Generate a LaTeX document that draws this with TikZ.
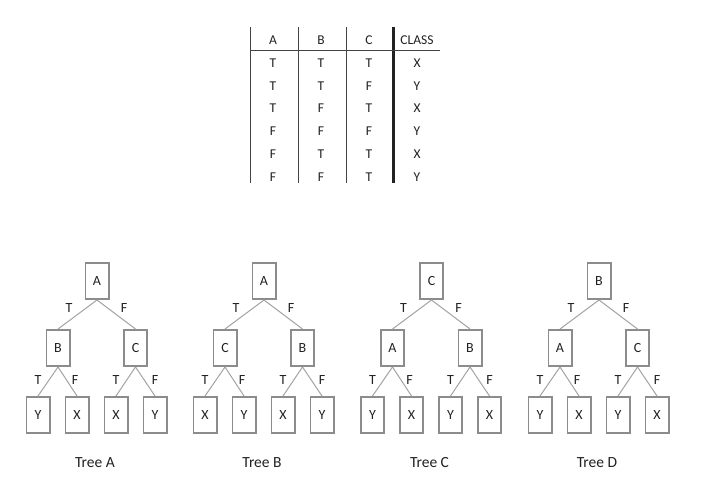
\documentclass[tikz,border=0pt]{standalone}
\usepackage{fontspec}
\setmainfont{Carlito}
\definecolor{boxgray}{HTML}{8C8C8C}
\definecolor{edgegray}{HTML}{A3A3A3}
\definecolor{inkc}{HTML}{222222}
\newcommand{\drawtree}[9]{%
  \begin{scope}[xshift=#1pt]
    \node[box] (#2-root) at (0,281) {#3};
    \node[box] (#2-left) at (-39,348) {#4};
    \node[box] (#2-right) at (38.5,348) {#5};
    \node[box] (#2-leaf1) at (-59,415) {#6};
    \node[box] (#2-leaf2) at (-20,415) {#7};
    \node[box] (#2-leaf3) at (19,415) {#8};
    \node[box] (#2-leaf4) at (58,415) {#9};
    \draw[edge] (#2-root.south) -- (#2-left.north);
    \draw[edge] (#2-root.south) -- (#2-right.north);
    \draw[edge] (#2-left.south) -- (#2-leaf1.north);
    \draw[edge] (#2-left.south) -- (#2-leaf2.north);
    \draw[edge] (#2-right.south) -- (#2-leaf3.north);
    \draw[edge] (#2-right.south) -- (#2-leaf4.north);
    \node[lbl] (#2-t0) at (-28,308) {T};
    \node[lbl] (#2-f0) at (27,308) {F};
    \node[lbl] (#2-t1) at (-59,380) {T};
    \node[lbl] (#2-f1) at (-22,380) {F};
    \node[lbl] (#2-t2) at (19,380) {T};
    \node[lbl] (#2-f2) at (58,380) {F};
    \node[treelbl] (#2-name) at (-2,463) {Tree #2};
  \end{scope}}
\begin{document}
\begin{tikzpicture}[x=1pt,y=-1pt,
  box/.style={draw=boxgray, line width=1.8pt, minimum width=23.2pt, minimum height=36.2pt,
    inner sep=0pt, font=\fontsize{14}{16}\selectfont, text=inkc},
  edge/.style={draw=edgegray, line width=1pt},
  lbl/.style={inner sep=0pt, font=\fontsize{14}{16}\selectfont, text=inkc},
  treelbl/.style={inner sep=0pt, font=\fontsize{15.5}{18}\selectfont, text=inkc},
  cell/.style={inner sep=0pt, font=\fontsize{13.5}{15}\selectfont, text=inkc},
  rule/.style={draw=inkc!85, line width=0.9pt}]
\useasboundingbox[fill=white] (0,0) rectangle (709,489);
% table
\draw[rule] (250,27) -- (250,183);
\draw[rule] (298,27) -- (298,183);
\draw[rule] (346,27) -- (346,183);
\draw[draw=inkc, line width=2.6pt] (393.5,27) -- (393.5,183);
\draw[rule] (250,50) -- (440,50);
\node[cell] (hA) at (273,40) {A};
\node[cell] (hB) at (321,40) {B};
\node[cell] (hC) at (369,40) {C};
\node[cell] (hK) at (417,40) {CLASS};
\foreach \a/\b/\c/\k [count=\i from 0] in {T/T/T/X, T/T/F/Y, T/F/T/X, F/F/F/Y, F/T/T/X, F/F/T/Y}{
  \pgfmathsetmacro{\yy}{63+22.8*\i}
  \node[cell] (a\i) at (273,\yy) {\a};
  \node[cell] (b\i) at (321,\yy) {\b};
  \node[cell] (c\i) at (369,\yy) {\c};
  \node[cell] (k\i) at (417,\yy) {\k};
}
% trees
\drawtree{97}{A}{A}{B}{C}{Y}{X}{X}{Y}
\drawtree{264}{B}{A}{C}{B}{X}{Y}{X}{Y}
\drawtree{431.5}{C}{C}{A}{B}{Y}{X}{Y}{X}
\drawtree{599}{D}{B}{A}{C}{Y}{X}{Y}{X}
\end{tikzpicture}
\end{document}
